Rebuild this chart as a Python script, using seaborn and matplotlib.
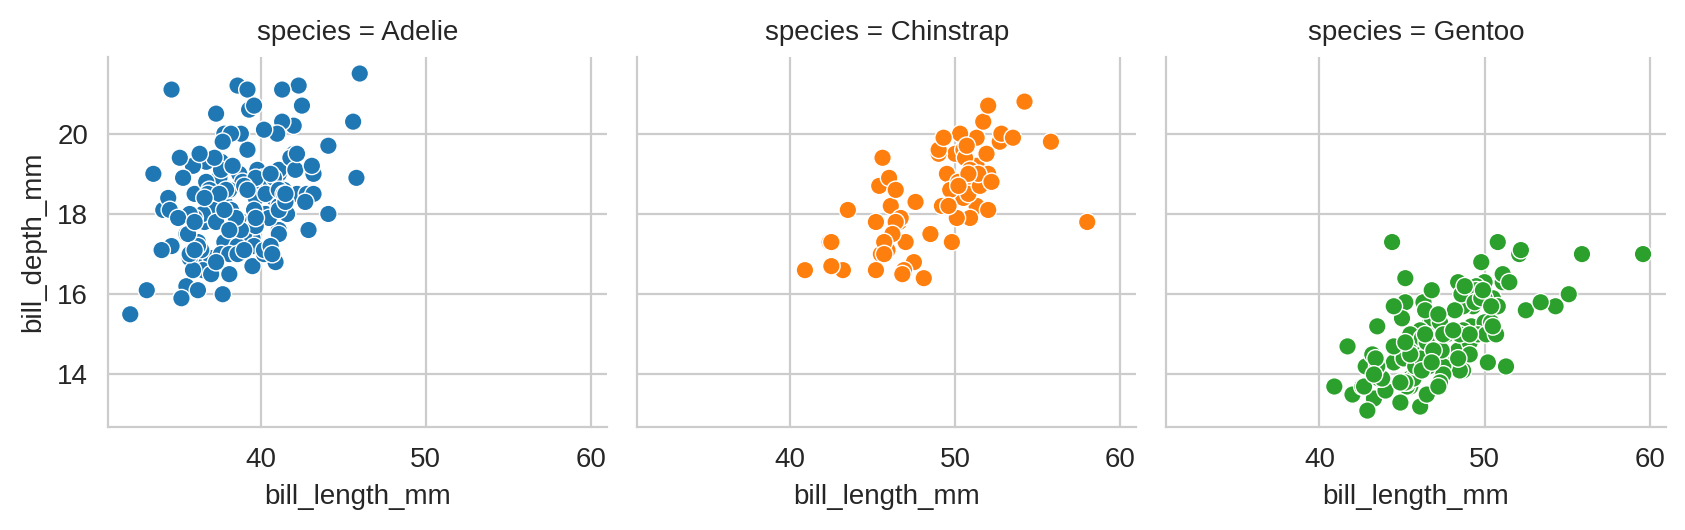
import numpy as np
import pandas as pd
import seaborn as sns
import matplotlib
matplotlib.use("Agg")
import matplotlib.pyplot as plt

adelie_len = [39.1,39.5,40.3,36.7,39.3,38.9,39.2,34.1,42.0,37.8,37.8,41.1,38.6,34.6,36.6,38.7,42.5,34.4,46.0,37.8,
              37.7,35.9,38.2,38.8,35.3,40.6,40.5,37.9,40.5,39.5,37.2,39.5,40.9,36.4,39.2,38.8,42.2,37.6,39.8,36.5,
              40.8,36.0,44.1,37.0,39.6,41.1,37.5,36.0,42.3,39.6,40.1,35.0,42.0,34.5,41.4,39.0,40.6,36.5,37.6,35.7,
              41.3,37.6,41.1,36.4,41.6,35.5,41.1,35.9,41.8,33.5,39.7,39.6,45.8,35.5,42.8,40.9,37.2,36.2,42.1,34.6,
              42.9,36.7,35.1,37.3,41.3,36.3,36.9,38.3,38.9,35.7,41.1,34.0,39.6,36.2,40.8,38.1,40.3,33.1,43.2,35.0,
              41.0,37.7,37.8,37.9,39.7,38.6,38.2,38.1,43.2,38.1,45.6,39.7,42.2,39.6,42.7,38.6,37.3,35.7,41.1,36.2,
              37.7,40.2,41.4,35.2,40.6,38.8,41.5,39.0,44.1,38.5,43.1,36.8,37.5,38.1,41.1,35.6,40.2,37.0,39.7,40.2,
              40.6,32.1,40.7,37.3,39.0,39.2,36.6,36.0,37.8,36.0,41.5]
adelie_dep = [18.7,17.4,18.0,19.3,20.6,17.8,19.6,18.1,20.2,17.1,17.3,17.6,21.2,21.1,17.8,19.0,20.7,18.4,21.5,18.3,
              18.7,19.2,18.1,17.2,18.9,18.6,17.9,18.6,18.9,16.7,18.1,17.8,18.9,17.0,21.1,20.0,18.5,19.3,19.1,18.0,
              18.4,18.5,19.7,16.9,18.8,19.0,18.9,17.9,21.2,17.7,18.9,17.9,19.5,18.1,18.6,17.5,18.8,16.6,19.1,16.9,
              21.1,17.0,18.2,17.1,18.0,16.2,19.1,16.6,19.4,19.0,18.4,17.2,18.9,17.5,18.5,16.8,19.4,16.1,19.1,17.2,
              17.6,18.8,19.4,17.8,20.3,19.5,18.6,19.2,18.8,18.0,18.1,17.1,18.1,17.3,18.9,18.6,18.5,16.1,18.5,17.9,
              20.0,16.0,20.0,18.6,18.9,17.2,20.0,17.0,19.0,16.5,20.3,17.7,19.5,20.7,18.3,17.0,20.5,17.0,18.6,17.2,
              19.8,17.0,18.5,15.9,19.0,17.6,18.3,17.1,18.0,17.9,19.2,18.5,18.5,17.6,17.5,17.5,20.1,16.5,17.9,17.1,
              17.2,15.5,17.0,16.8,18.7,18.6,18.4,17.8,18.1,17.1,18.5]

chinstrap_len = [46.5,50.0,51.3,45.4,52.7,45.2,46.1,51.3,46.0,51.3,46.6,51.7,47.0,52.0,45.9,50.5,50.3,58.0,46.4,49.2,
                 42.4,48.5,43.2,50.6,46.7,52.0,50.5,49.5,46.4,52.8,40.9,54.2,42.5,51.0,49.7,47.5,47.6,52.0,46.9,53.5,
                 49.0,46.2,50.9,45.5,50.9,50.8,50.1,49.0,51.5,49.8,48.1,51.4,45.7,50.7,42.5,52.2,45.2,49.3,50.2,45.6,
                 51.9,46.8,45.7,55.8,43.5,49.6,50.8,50.2]
chinstrap_dep = [17.9,19.5,19.2,18.7,19.8,17.8,18.2,18.2,18.9,19.9,17.8,20.3,17.3,18.1,17.1,19.6,20.0,17.8,18.6,18.2,
                 17.3,17.5,16.6,19.4,17.9,19.0,18.4,19.0,17.8,20.0,16.6,20.8,16.7,18.8,18.6,16.8,18.3,20.7,16.6,19.9,
                 19.5,17.5,19.1,17.0,17.9,18.5,17.9,19.6,18.7,17.3,16.4,19.0,17.3,19.7,17.3,18.8,16.6,19.9,18.8,19.4,
                 19.5,16.5,17.0,19.8,18.1,18.2,19.0,18.7]

gentoo_len = [46.1,50.0,48.7,50.0,47.6,46.5,45.4,46.7,43.3,46.8,40.9,49.0,45.5,48.4,45.8,49.3,42.0,49.2,46.2,48.7,
              50.2,45.1,46.5,46.3,42.9,46.1,44.5,47.8,48.2,50.0,47.3,42.8,45.1,59.6,49.1,48.4,42.6,44.4,44.0,48.7,
              42.7,49.6,45.3,49.6,50.5,43.6,45.5,50.5,44.9,45.2,46.6,48.5,45.1,50.1,46.5,45.0,43.8,45.5,43.2,50.4,
              45.3,46.2,45.7,54.3,45.8,49.8,46.2,49.5,43.5,50.7,47.7,46.4,48.2,46.5,46.4,48.6,47.5,51.1,45.2,45.2,
              49.1,52.5,47.4,50.0,44.9,50.8,43.4,51.3,47.5,52.1,47.5,52.2,45.5,49.5,44.5,50.8,49.4,46.9,48.4,51.1,
              48.5,55.9,47.2,49.1,47.3,46.8,41.7,53.4,43.3,48.1,50.5,49.8,43.5,51.5,46.2,55.1,44.5,48.8,47.2,46.8,
              50.4,45.2,49.9]
gentoo_dep = [13.2,16.3,14.1,15.2,14.5,13.5,14.6,15.3,13.4,15.4,13.7,16.1,13.7,14.6,14.6,15.7,13.5,15.2,14.5,15.1,
              14.3,14.5,14.5,15.8,13.1,15.1,14.3,15.0,14.3,15.3,15.3,14.2,14.5,17.0,14.8,16.3,13.7,17.3,13.6,15.7,
              13.7,16.0,13.7,15.0,15.9,13.9,13.9,15.9,13.3,15.8,14.2,14.1,14.4,15.0,14.4,15.4,13.9,15.0,14.5,15.3,
              13.8,14.9,13.9,15.7,14.2,16.8,14.4,16.2,14.2,15.0,15.0,15.6,15.6,14.8,15.0,16.0,14.2,16.3,13.8,16.4,
              14.5,15.6,14.6,15.9,13.8,17.3,14.4,14.2,14.0,17.0,15.0,17.1,14.5,16.1,14.7,15.7,15.8,14.6,14.4,16.5,
              15.0,17.0,15.5,15.0,13.8,16.1,14.7,15.8,14.0,15.1,15.2,15.9,15.2,16.3,14.1,16.0,15.7,16.2,13.7,14.3,
              15.7,14.8,16.1]

species = ["Adelie"] * len(adelie_len) + ["Chinstrap"] * len(chinstrap_len) + ["Gentoo"] * len(gentoo_len)
df = pd.DataFrame({
    "species": species,
    "bill_length_mm": adelie_len + chinstrap_len + gentoo_len,
    "bill_depth_mm": adelie_dep + chinstrap_dep + gentoo_dep,
})

sns.set_style("whitegrid")
plt.rcParams['font.family'] = ['Liberation Sans', 'DejaVu Sans']
g = sns.relplot(data=df, x="bill_length_mm", y="bill_depth_mm", col="species", hue="species",
                palette="tab10", legend=False, height=2.78, aspect=1.0, s=40)
g.set(xticks=[40, 50, 60], yticks=[14, 16, 18, 20])
g.figure.set_size_inches(8.54, 2.78)
g.tight_layout()
g.savefig("out.png", dpi=200)
